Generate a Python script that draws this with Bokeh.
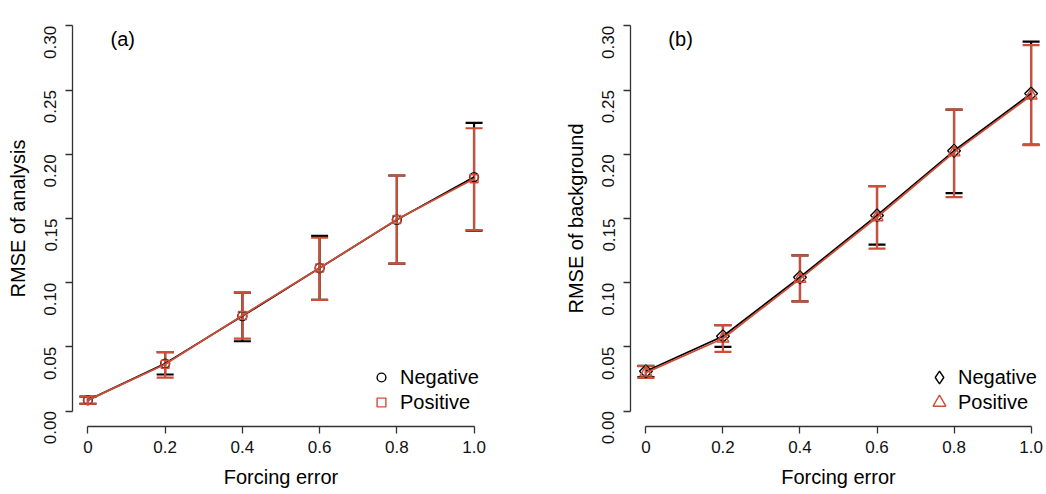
import math
from bokeh.plotting import figure
from bokeh.layouts import row
from bokeh.models import (Range1d, Whisker, ColumnDataSource, Legend, LegendItem,
                          TeeHead, FixedTicker, Label, PrintfTickFormatter)
from bokeh.embed import file_html
from bokeh.resources import INLINE

# ---------------- data ----------------
forcing_error = [0.0, 0.2, 0.4, 0.6, 0.8, 1.0]
x_tick_labels = ["0", "0.2", "0.4", "0.6", "0.8", "1.0"]
y_ticks = [0.0, 0.05, 0.10, 0.15, 0.20, 0.25, 0.30]

# panel (a) RMSE of analysis
a_neg_mean = [0.0085, 0.0370, 0.0740, 0.1114, 0.1490, 0.1822]
a_neg_low = [0.0057, 0.0285, 0.0544, 0.0866, 0.1148, 0.1405]
a_neg_up = [0.0112, 0.0460, 0.0923, 0.1365, 0.1835, 0.2245]
a_pos_mean = [0.0085, 0.0365, 0.0745, 0.1114, 0.1492, 0.1810]
a_pos_low = [0.0057, 0.0260, 0.0565, 0.0866, 0.1148, 0.1410]
a_pos_up = [0.0112, 0.0460, 0.0923, 0.1350, 0.1835, 0.2203]

# panel (b) RMSE of background
b_neg_mean = [0.0310, 0.0583, 0.1042, 0.1524, 0.2027, 0.2473]
b_neg_low = [0.0265, 0.0500, 0.0855, 0.1296, 0.1698, 0.2075]
b_neg_up = [0.0352, 0.0669, 0.1213, 0.1752, 0.2348, 0.2877]
b_pos_mean = [0.0300, 0.0565, 0.1030, 0.1510, 0.2015, 0.2458]
b_pos_low = [0.0259, 0.0461, 0.0855, 0.1265, 0.1666, 0.2071]
b_pos_up = [0.0350, 0.0669, 0.1213, 0.1752, 0.2348, 0.2851]

series_labels = ["Negative", "Positive"]

BLACK = "#000000"
RED = "#CD4F39"
FONT = "Liberation Sans"
AXC = "#333333"


def add_legend(p, label, renderer, gw, gh, loc, stand):
    legend = Legend(items=[LegendItem(label=label, renderers=[renderer])],
                    location=loc)
    legend.border_line_color = None
    legend.background_fill_alpha = 0
    legend.padding = 0
    legend.margin = 0
    legend.spacing = 0
    legend.glyph_width = gw
    legend.glyph_height = gh
    legend.label_height = gh
    legend.label_standoff = stand
    legend.label_text_font = FONT
    legend.label_text_font_size = "20px"
    legend.label_text_color = "#000000"
    p.add_layout(legend)


def make_panel(tag, ylabel, neg, pos, neg_marker, pos_marker, left, fw, right,
               legend_marker, leg):
    p = figure(width=left + fw + right, height=494, output_backend="svg",
               toolbar_location=None, x_range=Range1d(-0.04, 1.04),
               y_range=Range1d(-0.012, 0.312), min_border_left=left,
               min_border_right=right, min_border_top=10, min_border_bottom=68)
    p.outline_line_color = None
    p.xgrid.visible = False
    p.ygrid.visible = False
    p.background_fill_color = "white"

    for ax in (p.xaxis[0], p.yaxis[0]):
        ax.axis_line_color = AXC
        ax.axis_line_width = 1.3
        ax.major_tick_line_color = AXC
        ax.major_tick_line_width = 1.3
        ax.major_tick_in = 0
        ax.major_tick_out = 7
        ax.minor_tick_line_color = None
        ax.major_label_text_font = FONT
        ax.major_label_text_font_size = "17px"
        ax.major_label_text_color = "#111111"
        ax.axis_label_text_font = FONT
        ax.axis_label_text_font_size = "20px"
        ax.axis_label_text_font_style = "normal"
        ax.axis_label_text_color = "#000000"

    p.xaxis.ticker = FixedTicker(ticks=forcing_error)
    p.xaxis.major_label_overrides = {v: s for v, s in zip(forcing_error, x_tick_labels)}
    p.xaxis.bounds = (forcing_error[0], forcing_error[-1])
    p.xaxis.axis_label = "Forcing error"
    p.xaxis.major_label_standoff = 7
    p.xaxis.axis_label_standoff = 10

    p.yaxis.ticker = FixedTicker(ticks=y_ticks)
    p.yaxis.formatter = PrintfTickFormatter(format="%.2f")
    p.yaxis.bounds = (y_ticks[0], y_ticks[-1])
    p.yaxis.major_label_orientation = math.pi / 2
    p.yaxis.axis_label = ylabel
    p.yaxis.major_label_standoff = 15
    p.yaxis.axis_label_standoff = 7

    renderers = []
    sources = []
    for (mean, low, up), color, marker in ((neg, BLACK, neg_marker), (pos, RED, pos_marker)):
        src = ColumnDataSource(dict(x=forcing_error, y=mean, lo=low, hi=up))
        sources.append(src)
        p.line("x", "y", source=src, line_color=color, line_width=1.8)
        w = Whisker(base="x", upper="hi", lower="lo", source=src,
                    line_color=color, line_width=2.2,
                    upper_head=TeeHead(size=17, line_color=color, line_width=2.2),
                    lower_head=TeeHead(size=17, line_color=color, line_width=2.2))
        p.add_layout(w)
        mk, size, angle = marker
        r = p.scatter("x", "y", source=src, marker=mk, size=size, angle=angle,
                      line_color=color, line_width=1.4, fill_color=None)
        renderers.append(r)

    neg_legend_r = renderers[0]
    if legend_marker is not None:
        # key-only renderer (size 0 in the plot) so the legend shows the right shape
        neg_legend_r = p.scatter("x", "y", source=sources[0], marker=legend_marker,
                                 size=0, line_color=BLACK, line_width=1.4,
                                 fill_color=None)

    gw, gh, loc_neg, loc_pos, stand = leg
    add_legend(p, series_labels[0], neg_legend_r, gw, gh, loc_neg, stand)
    add_legend(p, series_labels[1], renderers[1], gw, gh, loc_pos, stand)

    p.add_layout(Label(x=0.09, y=0.29, text=tag, text_align="center",
                       text_baseline="middle", text_font=FONT,
                       text_font_size="20px", text_color="#000000"))
    return p


pa = make_panel("(a)", "RMSE of analysis",
                (a_neg_mean, a_neg_low, a_neg_up), (a_pos_mean, a_pos_low, a_pos_up),
                ("circle", 9, 0.0), ("square", 8, 0.0), 72, 417, 34,
                None, (22, 24, (298, 37), (298, 12), 8))
pb = make_panel("(b)", "RMSE of background",
                (b_neg_mean, b_neg_low, b_neg_up), (b_pos_mean, b_pos_low, b_pos_up),
                ("square", 9, math.pi / 4), ("triangle", 12, 0.0), 107, 416, 0,
                "diamond", (32, 32, (293, 33), (293, 8), 3))

layout = row(pa, pb, spacing=0)
open("out.html", "w").write(file_html(layout, INLINE))
